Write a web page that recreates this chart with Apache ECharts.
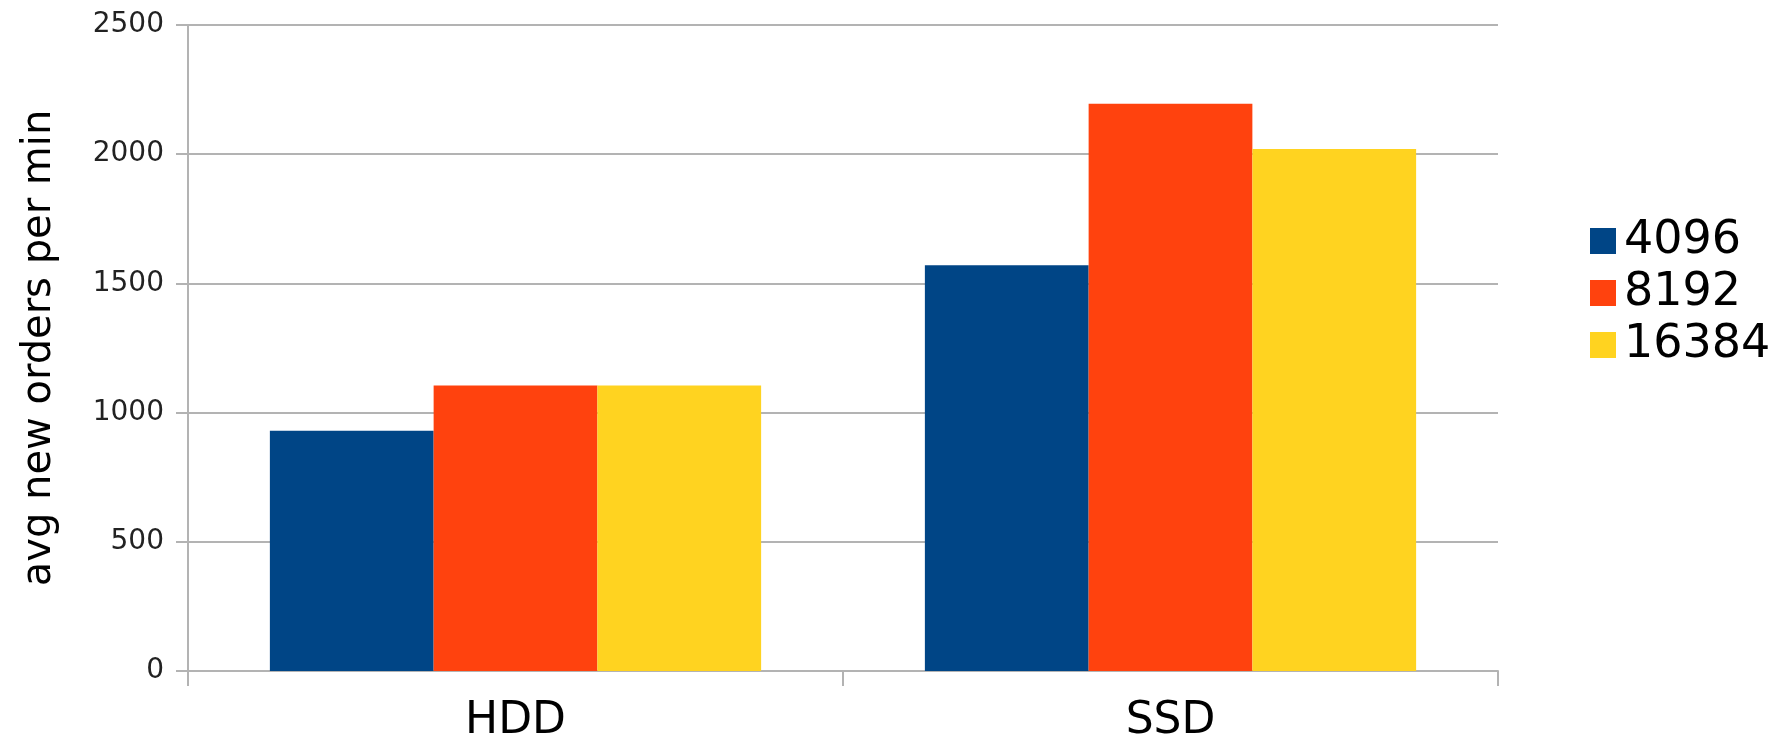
<!DOCTYPE html>
<html>
<head>
<meta charset="utf-8">
<title>avg new orders per min</title>
<script src="https://cdn.jsdelivr.net/npm/echarts@6/dist/echarts.min.js"></script>
<style>
  html, body { margin: 0; padding: 0; background: #ffffff; }
  #chart { width: 1783px; height: 736px; }
</style>
</head>
<body>
<div id="chart"></div>
<script>
// Storage types on the x axis
const categories = ['HDD', 'SSD'];
// Series names (legend)
const seriesNames = ['4096', '8192', '16384'];
// Average new orders per minute, one array per series
const values4096 = [930, 1570];
const values8192 = [1105, 2195];
const values16384 = [1105, 2020];
// Value axis ticks
const yTicks = [0, 500, 1000, 1500, 2000, 2500];

const colors = ['#004586', '#ff420e', '#ffd320'];
const seriesValues = [values4096, values8192, values16384];
const FONT = '"DejaVu Sans", Verdana, sans-serif';
const GRID_COLOR = '#b3b3b3';

const chart = echarts.init(document.getElementById('chart'), null, { renderer: 'canvas' });

chart.setOption({
  animation: false,
  backgroundColor: '#ffffff',
  color: colors,
  grid: {
    left: 188, right: 285, top: 25, bottom: 65,
    containLabel: false,
    outerBoundsMode: 'none'
  },
  legend: {
    orient: 'vertical',
    left: 1585,
    top: 213,
    itemWidth: 26,
    itemHeight: 26,
    itemGap: 6,
    icon: 'rect',
    textStyle: { fontFamily: FONT, fontSize: 46, color: '#000000', padding: [0, 0, 0, 3], lineHeight: 46 },
    data: seriesNames
  },
  xAxis: {
    type: 'category',
    data: categories,
    boundaryGap: true,
    axisLine: { show: true, lineStyle: { color: GRID_COLOR, width: 2 } },
    axisTick: { show: true, length: 15, alignWithLabel: false, lineStyle: { color: GRID_COLOR, width: 2 } },
    axisLabel: { fontFamily: FONT, fontSize: 44, color: '#000000', margin: 29 },
    splitLine: { show: false }
  },
  yAxis: {
    type: 'value',
    min: yTicks[0],
    max: yTicks[yTicks.length - 1],
    interval: yTicks[1] - yTicks[0],
    name: 'avg new orders per min',
    nameLocation: 'middle',
    nameGap: 128,
    nameTextStyle: { fontFamily: FONT, fontSize: 40, color: '#000000' },
    axisLine: { show: true, lineStyle: { color: GRID_COLOR, width: 2 } },
    axisTick: { show: true, length: 12, lineStyle: { color: GRID_COLOR, width: 2 } },
    axisLabel: {
      fontFamily: FONT,
      fontSize: 28,
      color: '#222222',
      margin: 24,
      formatter: (v) => String(v)
    },
    splitLine: { show: true, lineStyle: { color: GRID_COLOR, width: 2 } }
  },
  series: seriesNames.map((name, i) => ({
    name: name,
    type: 'bar',
    data: seriesValues[i],
    barGap: '0%',
    barCategoryGap: '25%',
    itemStyle: { color: colors[i] }
  }))
});
</script>
</body>
</html>
